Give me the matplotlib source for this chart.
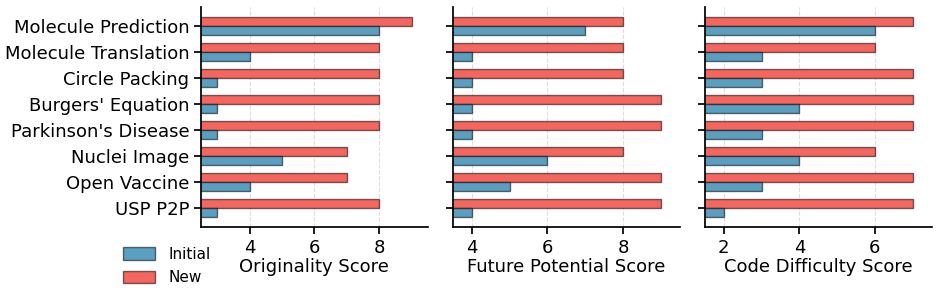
import matplotlib
matplotlib.use("Agg")
import matplotlib.pyplot as plt
import numpy as np

tasks = ["Molecule Prediction", "Molecule Translation", "Circle Packing",
         "Burgers' Equation", "Parkinson's Disease", "Nuclei Image",
         "Open Vaccine", "USP P2P"]

orig_initial = [8, 4, 3, 3, 3, 5, 4, 3]
orig_new = [9, 8, 8, 8, 8, 7, 7, 8]
future_initial = [7, 4, 4, 4, 4, 6, 5, 4]
future_new = [8, 8, 8, 9, 9, 8, 9, 9]
code_initial = [6, 3, 3, 4, 3, 4, 3, 2]
code_new = [7, 6, 7, 7, 7, 6, 7, 7]

panels = [("Originality Score", orig_initial, orig_new),
          ("Future Potential Score", future_initial, future_new),
          ("Code Difficulty Score", code_initial, code_new)]

c_init = "#5a9ec0"
c_new = "#f4665e"
h = 0.35

fig, axes = plt.subplots(1, 3, figsize=(9.4, 2.98), dpi=100, sharey=True)
fig.subplots_adjust(left=0.214, right=0.991, top=0.977, bottom=0.238, wspace=0.112)

y = np.arange(len(tasks))
for ax, (label, init, new) in zip(axes, panels):
    ax.barh(y - h / 2, new, height=h, color=c_new, edgecolor=(0, 0, 0, 0.55),
            linewidth=1, label="New", zorder=2)
    ax.barh(y + h / 2, init, height=h, color=c_init, edgecolor=(0, 0, 0, 0.55),
            linewidth=1, label="Initial", zorder=2)
    lo = min(min(init), min(new)) - 0.5
    hi = max(max(init), max(new)) + 0.5
    ax.set_xlim(lo, hi)
    ax.set_xlabel(label, fontsize=13, labelpad=1)
    ax.xaxis.grid(True, linestyle="--", color="#dddddd", linewidth=0.8, zorder=0)
    ax.set_axisbelow(True)
    for s in ["top", "right"]:
        ax.spines[s].set_visible(False)
    for s in ["left", "bottom"]:
        ax.spines[s].set_linewidth(1.25)
    ax.tick_params(axis="both", labelsize=13, width=1.25, length=5)

axes[0].set_yticks(y)
axes[0].set_yticklabels(tasks)
axes[0].invert_yaxis()

handles, labels = axes[0].get_legend_handles_labels()
fig.legend(handles[::-1], labels[::-1], loc="upper left", bbox_to_anchor=(0.1245, 0.192),
           frameon=False, fontsize=11, handlelength=2.1, handleheight=0.9,
           handletextpad=0.85, labelspacing=0.55, borderaxespad=0)

fig.savefig("out.png", dpi=100)
